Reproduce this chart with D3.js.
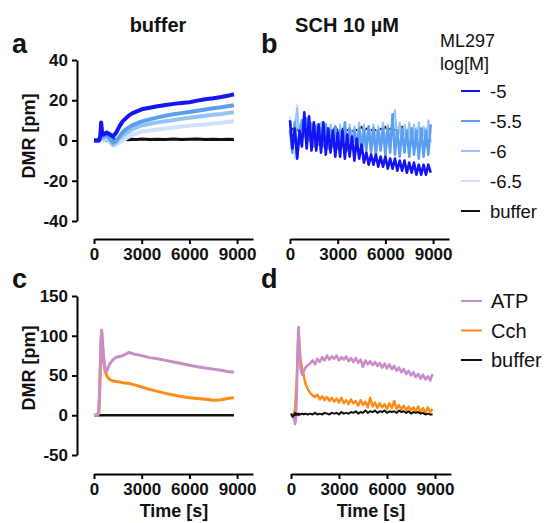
<!DOCTYPE html>
<html><head><meta charset="utf-8">
<script src="https://cdn.jsdelivr.net/npm/d3@7"></script>
<style>body{margin:0;background:#fff}svg{display:block}</style>
</head><body>
<svg id="chart" width="545" height="523"></svg>
<script>
// ---------- DATA ----------
const panelLabels = ["a", "b", "c", "d"];
const columnTitles = ["buffer", "SCH 10 µM"];
const xTicks = [0, 3000, 6000, 9000];
const yTicksTop = [-40, -20, 0, 20, 40];
const yTicksBottom = [-50, 0, 50, 100, 150];
const legendTopTitle = ["ML297", "log[M]"];
const legendTopLabels = ["-5", "-5.5", "-6", "-6.5", "buffer"];
const legendBottomLabels = ["ATP", "Cch", "buffer"];

// panel a (buffer, ML297)
const tA = [0,200,300,400,450,500,600,800,1000,1200,1400,1600,1800,2000,2200,2400,2700,3000,3500,4000,4500,5000,5500,6000,6500,7000,7500,8000,8400,8800];
const aM5   = [0,0,0,2,9,4,3,4,3,2,4,7,9.5,11,12.5,13.5,14.5,15.5,16.3,17,17.6,18.2,18.6,19,19.8,20.5,21,21.6,22.2,23];
const aM55  = [0,0,0,1,8,3,2,3,1,-1,0,2,4,5.5,6.5,7.5,8.5,9.5,10.5,11.5,12.3,13,13.6,14.2,14.8,15.4,16,16.5,17,17.5];
const aM6   = [0,0,0,1,6,2,1,2,0,-2,-1,1,2.5,3.5,4.5,5.5,6.5,7.5,8.3,9,9.6,10.2,10.8,11.3,11.8,12.3,12.8,13.2,13.6,14];
const aM65  = [0,0,0,0,4,1,0,1,-1,-2.5,-2,-1,0,1,2,3,3.5,4.5,5,5.5,6,6.5,7,7.3,7.7,8,8.5,8.8,9.2,9.5];
const aBuf  = [0,0,0,0,0.5,0,0.5,0,0.5,0.3,0.5,0.4,0.6,0.5,0.4,0.6,0.5,0.7,0.5,0.6,0.5,0.7,0.5,0.6,0.7,0.5,0.6,0.5,0.6,0.5];

// panel b (SCH 10 µM, ML297)
const tB = [0,150,300,450,600,750,900,1050,1200,1350,
            1500,1650,1800,1950,2100,2250,2400,2550,2700,2850,
            3000,3150,3300,3450,3600,3750,3900,4050,4200,4350,
            4500,4650,4800,4950,5100,5250,5400,5550,5700,5850,
            6000,6150,6300,6450,6600,6750,6900,7050,7200,7350,
            7500,7650,7800,7950,8100,8250,8400,8550,8700,8850];
const bM5  = [10,-4,6,-9,5,-3,14,-4,12,-5,
              9,-5,8,-6,9,-7,6,-6,5,-8,
              4,-8,5,-9,3,-8,2,-10,1,-9,
              -2,-11,-6,-12,-7,-12,-7,-13,-8,-13,
              -8,-14,-9,-14,-9,-15,-10,-15,-10,-16,
              -11,-16,-11,-17,-12,-17,-12,-17,-12,-16];
const bM55 = [5,-6,9,-8,4,10,2,11,0,8,
              -3,7,-2,6,-3,8,-4,5,-3,7,
              -4,5,-3,9,-5,6,-4,5,-5,6,
              -6,5,-5,7,-6,6,-7,5,-5,6,
              -7,6,-6,13,-7,5,-8,6,-6,5,
              -8,6,-7,5,-9,6,-8,5,-7,8];
const bM6  = [10,-4,7,16,-2,9,3,10,1,9,
              0,8,1,9,0,7,-1,8,0,6,
              -1,8,0,7,-1,8,-2,7,-1,9,
              -2,8,-1,7,-2,8,-1,7,-2,9,
              -1,8,-2,10,15,-1,9,-2,8,-1,
              9,-2,8,-3,9,-2,7,-3,10,-1];
const bM65 = [12,0,-9,18,3,8,1,6,2,7,
              3,5,2,6,3,5,2,6,3,5,
              2,6,3,5,2,6,3,5,2,6,
              3,5,2,6,3,5,2,6,3,5,
              2,6,3,5,2,6,3,5,2,6,
              3,5,2,6,3,5,2,6,3,5];
const bBuf = [4,6,3,5,7,4,5,6,4,5,
              6,5,4,6,5,5,6,4,5,7,
              5,4,6,5,5,6,4,6,5,5,
              7,4,6,5,5,6,5,4,6,5,
              7,4,6,5,5,6,4,7,5,5,
              6,4,5,6,5,4,6,5,4,5];

// panel c (buffer, ATP / Cch)
const tC = [0,200,300,350,400,450,480,520,600,700,800,900,1000,1200,1400,1600,1800,2000,2200,2500,3000,3500,4000,4500,5000,5500,6000,6500,7000,7500,8000,8400,8800];
const cATP = [0,0,5,30,65,95,107,95,75,58,55,60,65,70,73,74,75,77,79,77,75,72.5,71,69,67,65,63,61,59.5,58,56.5,55,54];
const cCch = [0,0,2,25,60,95,105,90,68,55,50,47,45,43,42.5,42,41,40.5,40,38.5,35.5,32.5,30,27.5,25.5,23.5,22,21,20,19,19.5,21,22];
const cBuf = [0,0,0,0,0,0,0,0,0,0,0,0,0,0,0,0,0,0,0,0,0,0,0,0,0,0,0,0,0,0,0,0,0];

// panel d (SCH 10 µM, ATP / Cch)
const tD = [0,100,200,250,300,350,400,450,480,520,600,700,800,900,1050,
            1200,1350,1500,1650,1800,1950,2100,2250,2400,2550,
            2700,2850,3000,3150,3300,3450,3600,3750,3900,4050,
            4200,4350,4500,4650,4800,4950,5100,5250,5400,5550,
            5700,5850,6000,6150,6300,6450,6600,6750,6900,7050,
            7200,7350,7500,7650,7800,7950,8100,8250,8400,8550,
            8700,8850];
const dATP = [0,1,-5,-11,-6,20,60,105,111,85,58,51,55,60,63,
              65,69,64,71,67,73,69,75,70,74,
              71,75,69,73,70,74,68,72,67,72,
              66,70,61,69,64,68,63,67,62,66,
              60,65,59,64,58,62,56,60,54,58,
              52,56,50,54,48,52,46,51,45,49,
              44,52];
const dCch = [0,0,2,8,25,43,70,100,105,90,70,58,50,40,33,
              28,25,23,26,20,24,19,23,18,22,
              17,21,16,22,15,19,14,20,15,18,
              12,19,13,17,10,22,11,16,9,15,
              10,14,8,15,9,18,8,13,7,12,
              6,11,6,10,5,11,4,9,3,10,
              4,8];
const dBuf = [2,-2,1,3,0,2,1,2,0,2,1,2,1,2,1,
              2,1,3,1,2,1,3,2,1,3,
              2,3,1,4,2,3,2,4,3,5,
              2,4,3,6,3,5,4,6,3,5,
              4,6,3,5,4,5,3,6,4,5,
              3,5,2,4,3,4,2,3,1,2,
              1,1];

// ---------- STYLE ----------
const C5 = "#1414f5", C55 = "#5c9ef0", C6 = "#97c2f5", C65 = "#cfe2f9";
const CATP = "#c98ec9", CCCH = "#ff8a14", CBUF = "#111111";
const FONT = "'Liberation Sans', Arial, Helvetica, sans-serif";

const svg = d3.select("#chart");

const xA = d3.scaleLinear().domain([0, 10000]).range([94, 253]);
const xB = d3.scaleLinear().domain([0, 10000]).range([290, 449]);
const xD = d3.scaleLinear().domain([0, 10000]).range([291, 451]);
const yTop = d3.scaleLinear().domain([-40, 40]).range([221, 60]);
const yBot = d3.scaleLinear().domain([-50, 150]).range([455, 296]);

function xAxis(x, yPos) {
  const g = svg.append("g").attr("transform", `translate(0,${yPos})`)
    .call(d3.axisBottom(x).tickValues(xTicks).tickSize(5).tickSizeOuter(0).tickPadding(3).tickFormat(d => String(d)));
  styleAxis(g);
  g.selectAll("text").attr("dy", "0.75em");
}
function yAxis(y, ticks, xPos) {
  const g = svg.append("g").attr("transform", `translate(${xPos},0)`)
    .call(d3.axisLeft(y).tickValues(ticks).tickSize(5).tickSizeOuter(0).tickPadding(4).tickFormat(d => String(d)));
  styleAxis(g);
}
function styleAxis(g) {
  g.select(".domain").attr("stroke", "#000").attr("stroke-width", 2);
  g.selectAll(".tick line").attr("stroke", "#000").attr("stroke-width", 2);
  g.selectAll("text").attr("fill", "#111").style("font-family", FONT)
    .style("font-weight", "bold").style("font-size", "17px");
}
function drawLine(x, y, t, v, color, w) {
  const line = d3.line().x((d, i) => x(t[i])).y(d => y(d));
  svg.append("path").datum(v).attr("d", line).attr("fill", "none")
    .attr("stroke", color).attr("stroke-width", w).attr("stroke-linejoin", "round");
}

// panel a
drawLine(xA, yTop, tA, aBuf, CBUF, 3);
drawLine(xA, yTop, tA, aM65, C65, 4);
drawLine(xA, yTop, tA, aM6, C6, 4);
drawLine(xA, yTop, tA, aM55, C55, 4);
drawLine(xA, yTop, tA, aM5, C5, 4);
// panel b
drawLine(xB, yTop, tB, bBuf, CBUF, 1.5);
drawLine(xB, yTop, tB, bM65, C65, 2);
drawLine(xB, yTop, tB, bM6, C6, 2);
drawLine(xB, yTop, tB, bM55, C55, 2.6);
drawLine(xB, yTop, tB, bM5, C5, 2.6);
// panel c
drawLine(xA, yBot, tC, cBuf, CBUF, 2.5);
drawLine(xA, yBot, tC, cCch, CCCH, 3);
drawLine(xA, yBot, tC, cATP, CATP, 3);
// panel d
drawLine(xD, yBot, tD, dCch, CCCH, 2.4);
drawLine(xD, yBot, tD, dATP, CATP, 2.6);
drawLine(xD, yBot, tD, dBuf, CBUF, 2);

// axes
yAxis(yTop, yTicksTop, 77);
yAxis(yBot, yTicksBottom, 77);
xAxis(xA, 239);
xAxis(xB, 239);
xAxis(xA, 474);
xAxis(xD, 474);

function text(x, y, s, size, weight, anchor, rot) {
  const t = svg.append("text").attr("x", x).attr("y", y).text(s)
    .style("font-family", FONT).style("font-size", size + "px")
    .style("font-weight", weight).attr("fill", "#111")
    .attr("text-anchor", anchor || "start");
  if (rot) t.attr("transform", `rotate(${rot},${x},${y})`);
  return t;
}

// axis titles
text(35, 136, "DMR [pm]", 18, "bold", "middle", -90);
text(35, 368, "DMR [pm]", 18, "bold", "middle", -90);
text(174, 517, "Time [s]", 18, "bold", "middle");
text(371, 517, "Time [s]", 18, "bold", "middle");

// column titles & panel labels
text(158, 32, columnTitles[0], 20, "bold", "middle");
text(347, 32, columnTitles[1], 20, "bold", "middle");
const labelPos = [[12, 53], [261, 53], [12, 288], [261, 288]];
panelLabels.forEach((l, i) => text(labelPos[i][0], labelPos[i][1], l, 27, "bold"));

// top legend
text(440, 47, legendTopTitle[0], 18, "normal");
text(440, 70, legendTopTitle[1], 18, "normal");
const topColors = [C5, C55, C6, C65, CBUF];
legendTopLabels.forEach((l, i) => {
  const cy = 91 + i * 30;
  svg.append("line").attr("x1", 461).attr("x2", 480).attr("y1", cy).attr("y2", cy)
    .attr("stroke", topColors[i]).attr("stroke-width", 2);
  text(490, cy + 6.5, l, 18.5, "normal");
});
// bottom legend
const botColors = [CATP, CCCH, CBUF];
legendBottomLabels.forEach((l, i) => {
  const cy = 301 + i * 29.5;
  svg.append("line").attr("x1", 461).attr("x2", 482).attr("y1", cy).attr("y2", cy)
    .attr("stroke", botColors[i]).attr("stroke-width", 2);
  text(491, cy + 7, l, 20, "normal");
});
</script>
</body></html>
